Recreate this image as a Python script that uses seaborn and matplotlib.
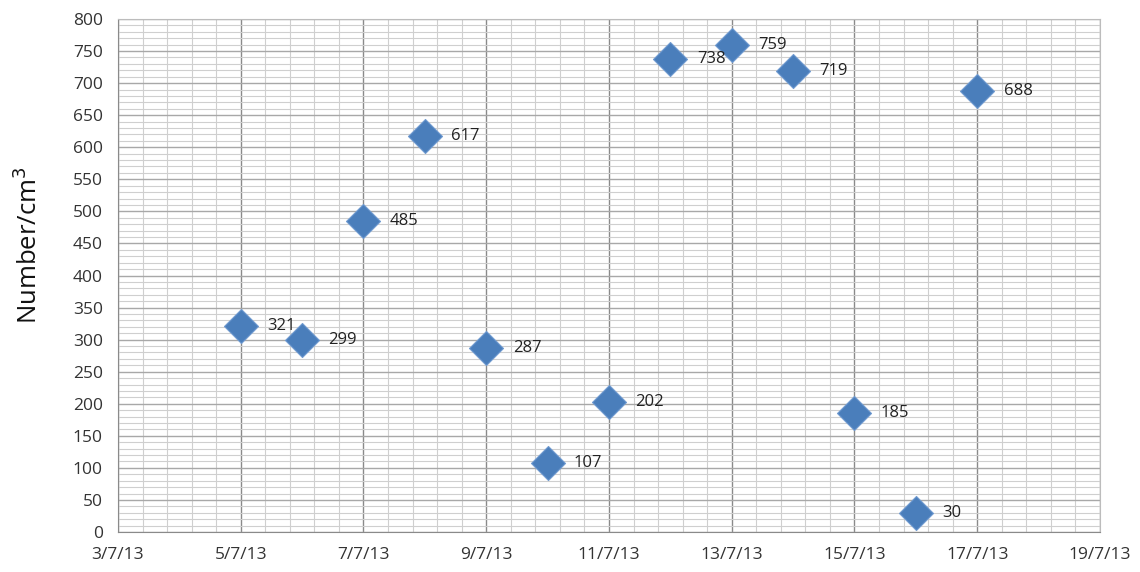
import numpy as np
import pandas as pd
import matplotlib
matplotlib.use("Agg")
import matplotlib.pyplot as plt
import matplotlib.dates as mdates
import seaborn as sns

# Values
dates = ["2013-07-05", "2013-07-06", "2013-07-07", "2013-07-08", "2013-07-09",
         "2013-07-10", "2013-07-11", "2013-07-12", "2013-07-13", "2013-07-14",
         "2013-07-15", "2013-07-16", "2013-07-17"]
counts = [321, 299, 485, 617, 287, 107, 202, 738, 759, 719, 185, 30, 688]

x_start, x_end = "2013-07-03", "2013-07-19"

df = pd.DataFrame({"date": pd.to_datetime(dates), "count": counts})

sns.set_style("white")
plt.rcParams["font.family"] = ["Open Sans", "DejaVu Sans"]

fig = plt.figure(figsize=(11.4, 5.72), dpi=100)
ax = fig.add_axes([0.1035, 0.0699, 0.8614, 0.8969])

sns.scatterplot(data=df, x="date", y="count", marker="D", s=300,
                color="#4a7ebb", edgecolor="#6f9ad0", linewidth=0.8,
                zorder=3, ax=ax)

# value labels next to each point
for d, c in zip(df["date"], df["count"]):
    ax.annotate(str(c), (d, c), xytext=(19, 0), textcoords="offset points",
                fontsize=12, color="#222222", va="center", zorder=4)

x0 = mdates.date2num(pd.Timestamp(x_start))
x1 = mdates.date2num(pd.Timestamp(x_end))
ax.set_xlim(x0, x1)
ax.set_ylim(0, 800)

ax.set_xticks(np.arange(x0, x1 + 0.01, 2))
ax.set_xticks(np.arange(x0, x1 + 0.01, 0.4), minor=True)
ax.xaxis.set_major_formatter(mdates.DateFormatter("%-d/%-m/%y"))
ax.set_yticks(np.arange(0, 801, 50))
ax.set_yticks(np.arange(0, 801, 10), minor=True)

ax.grid(which="minor", color="#cfcfcf", linewidth=0.8)
ax.grid(which="major", axis="x", color="#8a8a8a", linewidth=1.0)
ax.grid(which="major", axis="y", color="#a8a8a8", linewidth=1.0)
ax.set_axisbelow(True)

for side in ["left", "bottom"]:
    ax.spines[side].set_color("#8a8a8a")
for side in ["top", "right"]:
    ax.spines[side].set_color("#bcbcbc")

ax.tick_params(axis="both", which="major", direction="out", length=6,
               color="#8a8a8a", labelsize=12.5, labelcolor="#333333", pad=5)
ax.tick_params(axis="both", which="minor", length=0)

ax.set_xlabel("")
ax.set_ylabel("Number/cm$^3$", fontsize=18.5, color="#111111")
ax.yaxis.set_label_coords(-0.076, 0.56)

fig.savefig("out.png", dpi=100)
